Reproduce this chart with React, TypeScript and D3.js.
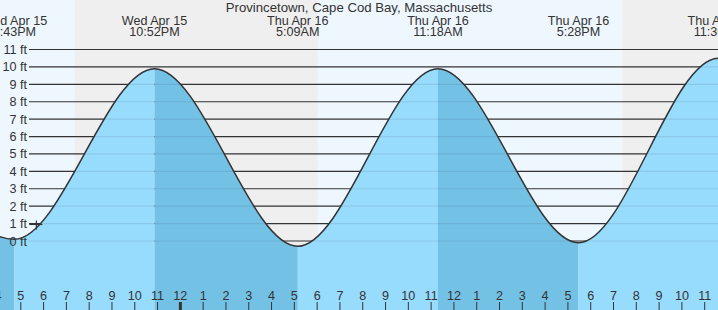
import React from "react";
import * as d3 from "d3";

const W = 718;
const H = 310;

const title = "Provincetown, Cape Cod Bay, Massachusetts";

// tide extremes (local time) and heights in ft
const extremeTimes = [
  new Date(2026, 3, 15, 10, 30),
  new Date(2026, 3, 15, 16, 43),
  new Date(2026, 3, 15, 22, 52),
  new Date(2026, 3, 16, 5, 9),
  new Date(2026, 3, 16, 11, 18),
  new Date(2026, 3, 16, 17, 28),
  new Date(2026, 3, 16, 23, 36),
  new Date(2026, 3, 17, 5, 50),
];
const extremeHeights = [9.6, 0.1, 9.9, -0.3, 9.9, -0.1, 10.5, -0.4];
const extremeLabelsDay = ["Wed Apr 15", "Wed Apr 15", "Wed Apr 15", "Thu Apr 16", "Thu Apr 16", "Thu Apr 16", "Thu Apr 16", "Fri Apr 17"];
const extremeLabelsTime = ["10:30AM", "4:43PM", "10:52PM", "5:09AM", "11:18AM", "5:28PM", "11:36PM", "5:50AM"];

// sun: sunset / sunrise boundaries
const nightStarts = [new Date(2026, 3, 15, 19, 22), new Date(2026, 3, 16, 19, 24)];
const nightEnds = [new Date(2026, 3, 16, 6, 1), new Date(2026, 3, 17, 6, 0)];

const yTicks = [0, 1, 2, 3, 4, 5, 6, 7, 8, 9, 10, 11];

const markerTime = new Date(2026, 3, 15, 17, 41);
const markerHeight = 0.95;

const font = "'Liberation Sans', Arial, sans-serif";

export default function App() {
  const x = d3
    .scaleTime()
    .domain([new Date(2026, 3, 15, 16, 0), new Date(2026, 3, 16, 23, 0)])
    .range([-2, 704.7]);
  const y = d3.scaleLinear().domain([0, 11]).range([241, 49.5]);

  const pts = extremeTimes.map((t, i) => ({ t, v: extremeHeights[i] }));
  const line = d3
    .line<{ t: Date; v: number }>()
    .x((d) => x(d.t))
    .y((d) => y(d.v))
    .curve(d3.curveMonotoneX);
  const area = d3
    .area<{ t: Date; v: number }>()
    .x((d) => x(d.t))
    .y0(H)
    .y1((d) => y(d.v))
    .curve(d3.curveMonotoneX);

  const hours = d3.timeHour.range(new Date(2026, 3, 15, 16, 0), new Date(2026, 3, 17, 0, 30));
  const fmtHour = d3.timeFormat("%-I");

  const gridX0 = 29;
  const fs = 12.6;

  return (
    <svg
      width={W}
      height={H}
      style={{ position: "absolute", left: 0, top: 0, display: "block" }}
      fontFamily={font}
    >
      <defs>
        <clipPath id="tideClip">
          <path d={area(pts) || ""} />
        </clipPath>
      </defs>
      {/* day background */}
      <rect x={0} y={0} width={W} height={H} fill="#eef6fe" />
      {nightStarts.map((s, i) => (
        <rect
          key={"n" + i}
          x={x(s)}
          y={0}
          width={x(nightEnds[i]) - x(s)}
          height={H}
          fill="#efefef"
        />
      ))}
      {/* grid lines */}
      {yTicks.map((v) => (
        <line key={"g" + v} x1={gridX0} x2={W} y1={y(v)} y2={y(v)} stroke="#333" strokeWidth={1.2} />
      ))}
      {/* tide fill by phase */}
      <g clipPath="url(#tideClip)">
        {pts.slice(0, -1).map((p, i) => {
          const rising = pts[i + 1].v > p.v;
          return (
            <rect
              key={"f" + i}
              x={x(p.t)}
              y={0}
              width={x(pts[i + 1].t) - x(p.t)}
              height={H}
              fill={rising ? "#97dbfd" : "#74c1e6"}
            />
          );
        })}
        {yTicks.map((v) => (
          <line key={"gi" + v} x1={gridX0} x2={W} y1={y(v)} y2={y(v)} stroke="#000" strokeOpacity={0.08} strokeWidth={1.2} />
        ))}
      </g>
      <path d={line(pts) || ""} fill="none" stroke="#333" strokeWidth={1.5} />
      {/* marker */}
      <g stroke="#333" strokeWidth={1.2}>
        <line x1={x(markerTime) - 7} x2={x(markerTime) + 6} y1={y(markerHeight)} y2={y(markerHeight)} />
        <line x1={x(markerTime)} x2={x(markerTime)} y1={y(markerHeight) - 4} y2={y(markerHeight) + 5} />
      </g>
      {/* y labels */}
      {yTicks.map((v) => (
        <text key={"yl" + v} x={27} y={y(v) + 4.5} textAnchor="end" fontSize={fs} fill="#333">
          {v} ft
        </text>
      ))}
      {/* x ticks */}
      {hours.map((h, i) => {
        const isMid = h.getHours() === 0;
        return (
          <g key={"t" + i}>
            <line
              x1={x(h)}
              x2={x(h)}
              y1={302}
              y2={H}
              stroke="#333"
              strokeWidth={isMid ? 3 : 1}
            />
            <text x={x(h)} y={300} textAnchor="middle" fontSize={fs} fill="#333">
              {fmtHour(h)}
            </text>
          </g>
        );
      })}
      {/* header labels */}
      <text x={W / 2} y={12} textAnchor="middle" fontSize={13.2} fill="#333">
        {title}
      </text>
      {pts.map((p, i) => (
        <g key={"h" + i}>
          <text x={x(p.t)} y={24.5} textAnchor="middle" fontSize={fs} fill="#333">
            {extremeLabelsDay[i]}
          </text>
          <text x={x(p.t)} y={36} textAnchor="middle" fontSize={fs} fill="#333">
            {extremeLabelsTime[i]}
          </text>
        </g>
      ))}
    </svg>
  );
}
